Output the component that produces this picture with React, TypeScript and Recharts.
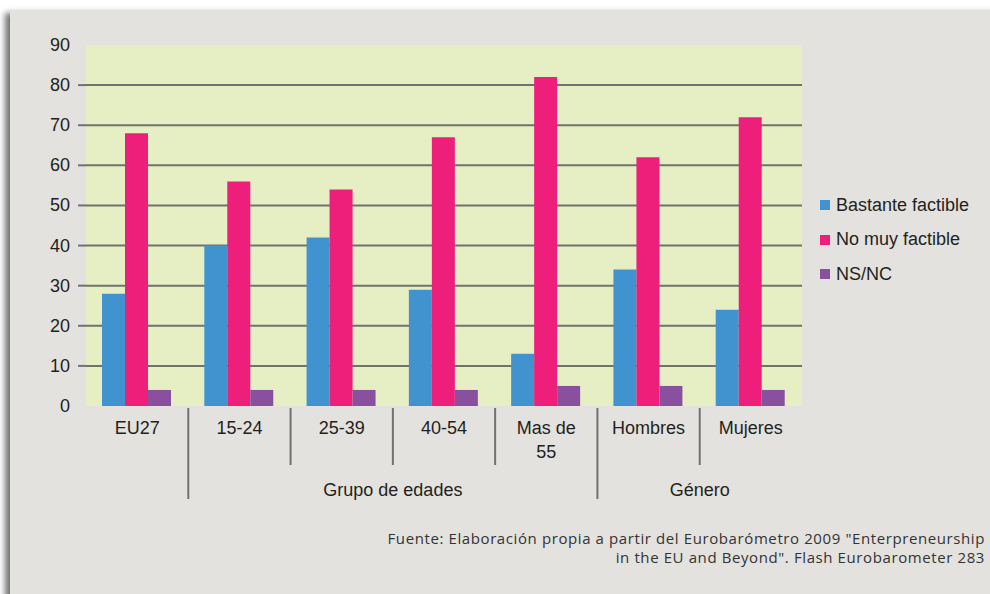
import React from 'react';
import { BarChart, Bar, XAxis, YAxis, CartesianGrid } from 'recharts';

/* ---------------------------------- DATA ---------------------------------- */

const categories = ['EU27', '15-24', '25-39', '40-54', 'Mas de 55', 'Hombres', 'Mujeres'];
const bastante = [28, 40, 42, 29, 13, 34, 24];
const noMuy = [68, 56, 54, 67, 82, 62, 72];
const nsnc = [4, 4, 4, 4, 5, 5, 4];
const yTicks = [0, 10, 20, 30, 40, 50, 60, 70, 80, 90];
const gridValues = [10, 20, 30, 40, 50, 60, 70, 80];

// category groups under the axis (first index, count)
const groups = [
  { label: 'Grupo de edades', start: 1, count: 4 },
  { label: 'Género', start: 5, count: 2 },
];

const seriesInfo = [
  { key: 'bastante', name: 'Bastante factible', color: '#4193d0' },
  { key: 'noMuy', name: 'No muy factible', color: '#ee1f7b' },
  { key: 'nsnc', name: 'NS/NC', color: '#8950a0' },
];

const chartData = categories.map((name, i) => ({
  name,
  bastante: bastante[i],
  noMuy: noMuy[i],
  nsnc: nsnc[i],
}));

/* --------------------------------- LAYOUT --------------------------------- */

const W = 990;
const H = 594;
const PLOT_LEFT = 86;
const PLOT_RIGHT = 802;
const PLOT_TOP = 45;
const PLOT_BOTTOM = 406;
const Y_AXIS_W = 60;
const X_AXIS_H = 100;
const BAND = (PLOT_RIGHT - PLOT_LEFT) / categories.length;

const GRID = '#717171';
const TEXT = '#231f20';
const FONT = '"Liberation Sans", Arial, sans-serif';
const FS = 18;

/* ------------------------------- COMPONENTS ------------------------------- */

function YTick(props: any) {
  const { x, y, payload } = props;
  const v = payload.value;
  return (
    <g>
      {v > 0 && v < 90 && (
        <line x1={x + 8} x2={x + 16} y1={y} y2={y} stroke={GRID} strokeWidth={2} />
      )}
      <text x={x} y={y} dy={6} textAnchor="end" fontSize={FS} fill={TEXT} fontFamily={FONT}>
        {v}
      </text>
    </g>
  );
}

function XTick(props: any) {
  const { x, y, payload, index } = props;
  const label: string = payload.value;
  const lines = label === 'Mas de 55' ? ['Mas de', '55'] : [label];
  const left = x - BAND / 2;
  const group = groups.find((g) => g.start === index);
  return (
    <g>
      {lines.map((t, i) => (
        <text
          key={t}
          x={x}
          y={y + 20}
          dy={i * 24}
          textAnchor="middle"
          fontSize={FS}
          fill={TEXT}
          fontFamily={FONT}
        >
          {t}
        </text>
      ))}
      {index > 0 && (
        <line
          x1={left}
          x2={left}
          y1={y - 6}
          y2={y + (group ? 85 : 51)}
          stroke={GRID}
          strokeWidth={2}
        />
      )}
      {group && (
        <text
          x={left + (group.count * BAND) / 2}
          y={y + 82}
          textAnchor="middle"
          fontSize={FS}
          fill={TEXT}
          fontFamily={FONT}
        >
          {group.label}
        </text>
      )}
    </g>
  );
}

function LegendBox() {
  return (
    <div style={{ position: 'absolute', left: 820, top: 188, fontFamily: FONT }}>
      {seriesInfo.map((s) => (
        <div
          key={s.key}
          style={{ display: 'flex', alignItems: 'center', height: 34.5, fontSize: FS, color: TEXT }}
        >
          <span style={{ width: 10, height: 10, background: s.color, marginRight: 6, display: 'inline-block' }} />
          {s.name}
        </div>
      ))}
    </div>
  );
}

export default function App() {
  return (
    <div style={{ position: 'absolute', left: 0, top: 0, width: W, height: H, background: '#fff', overflow: 'hidden' }}>
      <div
        style={{
          position: 'absolute',
          left: 10,
          top: 10,
          width: W,
          height: H,
          background: '#e3e2df',
          boxShadow: '-5px 3px 6px rgba(0,0,0,0.55)',
        }}
      />
      <div style={{ position: 'absolute', left: 0, top: 0 }}>
        <BarChart
          width={W}
          height={H}
          data={chartData}
          margin={{
            top: PLOT_TOP,
            left: PLOT_LEFT - Y_AXIS_W,
            right: W - PLOT_RIGHT,
            bottom: H - PLOT_BOTTOM - X_AXIS_H,
          }}
          barCategoryGap={16}
          barGap={0}
        >
          <CartesianGrid
            vertical={false}
            horizontalValues={gridValues}
            fill="#e6efc4"
            stroke={GRID}
            strokeWidth={2}
          />
          <XAxis
            dataKey="name"
            axisLine={false}
            tickLine={false}
            interval={0}
            height={X_AXIS_H}
            tick={<XTick />}
          />
          <YAxis
            domain={[0, 90]}
            ticks={yTicks}
            width={Y_AXIS_W}
            axisLine={false}
            tickLine={false}
            tickSize={8}
            tickMargin={8}
            interval={0}
            tick={<YTick />}
          />
          {seriesInfo.map((s) => (
            <Bar key={s.key} dataKey={s.key} name={s.name} fill={s.color} isAnimationActive={false} />
          ))}
        </BarChart>
      </div>
      <LegendBox />
      <div
        style={{
          position: 'absolute',
          right: 5,
          top: 529,
          textAlign: 'right',
          fontFamily: '"Open Sans", sans-serif',
          fontSize: 15,
          letterSpacing: 0.6,
          lineHeight: '19px',
          color: '#333',
        }}
      >
        Fuente: Elaboración propia a partir del Eurobarómetro 2009 "Enterpreneurship
        <br />
        in the EU and Beyond". Flash Eurobarometer 283
      </div>
    </div>
  );
}
